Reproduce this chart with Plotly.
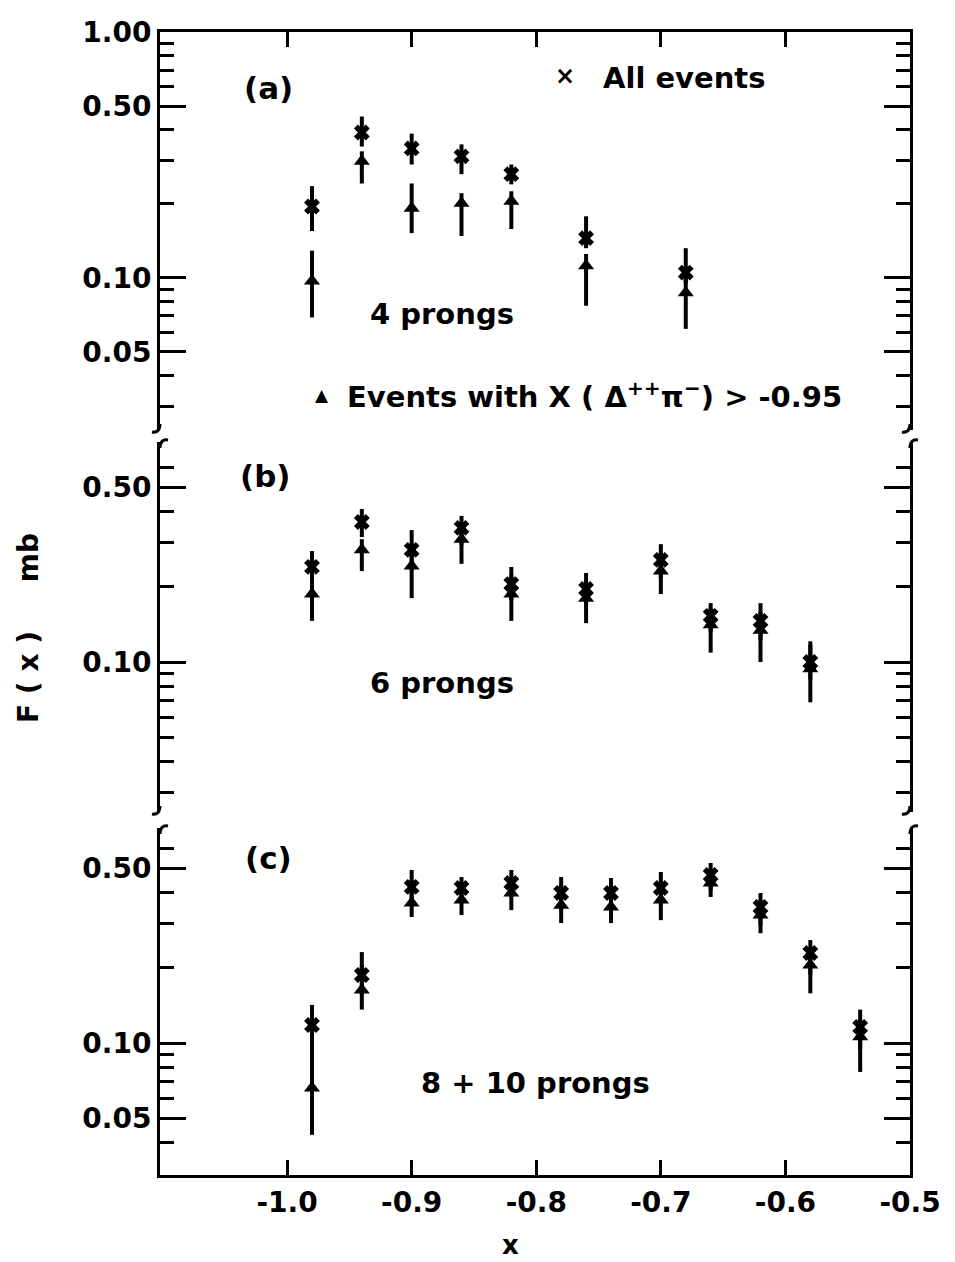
import plotly.graph_objects as go

# ---------------- data ----------------
# panel (a) 4 prongs
x_a = [-0.98, -0.94, -0.90, -0.86, -0.82, -0.76, -0.68]
all_a = [0.195, 0.390, 0.336, 0.312, 0.264, 0.145, 0.105]
all_a_hi = [0.236, 0.453, 0.386, 0.349, 0.289, 0.178, 0.132]
all_a_lo = [0.155, 0.342, 0.289, 0.264, 0.240, 0.132, 0.095]
sel_a = [0.097, 0.298, 0.192, 0.201, 0.205, 0.112, 0.087]
sel_a_hi = [0.129, 0.327, 0.242, 0.221, 0.225, 0.125, 0.099]
sel_a_lo = [0.069, 0.242, 0.152, 0.148, 0.158, 0.077, 0.062]

# panel (b) 6 prongs
x_b = [-0.98, -0.94, -0.90, -0.86, -0.82, -0.76, -0.70, -0.66, -0.62, -0.58]
all_b = [0.240, 0.363, 0.281, 0.344, 0.205, 0.196, 0.256, 0.153, 0.146, 0.100]
all_b_hi = [0.278, 0.409, 0.337, 0.384, 0.240, 0.227, 0.296, 0.172, 0.172, 0.121]
all_b_lo = [0.205, 0.316, 0.233, 0.294, 0.177, 0.169, 0.217, 0.132, 0.122, 0.085]
sel_b = [0.187, 0.281, 0.242, 0.310, 0.187, 0.180, 0.231, 0.141, 0.134, 0.094]
sel_b_hi = [0.205, 0.310, 0.294, 0.353, 0.223, 0.213, 0.275, 0.164, 0.158, 0.117]
sel_b_lo = [0.146, 0.231, 0.180, 0.247, 0.146, 0.143, 0.187, 0.109, 0.100, 0.069]

# panel (c) 8 + 10 prongs
x_c = [-0.98, -0.94, -0.90, -0.86, -0.82, -0.78, -0.74, -0.70, -0.66, -0.62, -0.58, -0.54]
all_c = [0.118, 0.187, 0.421, 0.417, 0.437, 0.398, 0.398, 0.417, 0.470, 0.350, 0.229, 0.116]
all_c_hi = [0.142, 0.231, 0.492, 0.461, 0.492, 0.461, 0.457, 0.483, 0.525, 0.398, 0.258, 0.136]
all_c_lo = [0.0895, 0.156, 0.357, 0.373, 0.384, 0.340, 0.340, 0.357, 0.409, 0.296, 0.187, 0.094]
sel_c = [0.066, 0.163, 0.363, 0.373, 0.398, 0.356, 0.350, 0.373, 0.437, 0.325, 0.205, 0.106]
sel_c_hi = [0.0895, 0.205, 0.449, 0.429, 0.457, 0.429, 0.409, 0.429, 0.492, 0.373, 0.235, 0.124]
sel_c_lo = [0.0429, 0.136, 0.319, 0.325, 0.340, 0.302, 0.302, 0.310, 0.384, 0.275, 0.158, 0.0766]

x_ticks = [-1.0, -0.9, -0.8, -0.7, -0.6, -0.5]
x_ticktext = ["-1.0", "-0.9", "-0.8", "-0.7", "-0.6", "-0.5"]

ya_major = [0.05, 0.1, 0.5, 1.0]
ya_labels = ["0.05", "0.10", "0.50", "1.00"]
ya_minor = [0.03, 0.04, 0.06, 0.07, 0.08, 0.09, 0.2, 0.3, 0.4, 0.6, 0.7, 0.8, 0.9]
yb_major = [0.1, 0.5]
yb_labels = ["0.10", "0.50"]
yb_minor = [0.03, 0.04, 0.05, 0.06, 0.07, 0.08, 0.09, 0.2, 0.3, 0.4, 0.6]
yc_major = [0.05, 0.1, 0.5]
yc_labels = ["0.05", "0.10", "0.50"]
yc_minor = [0.04, 0.06, 0.07, 0.08, 0.09, 0.2, 0.3, 0.4, 0.6]

# ---------------- layout geometry (pixels) ----------------
W, H = 955, 1262
L, R, T, B = 160, 910, 32, 1175
A_BOT, B_TOP, B_BOT, C_TOP = 430, 442, 812, 828
FONT = "DejaVu Sans"
XR = [-1.102, -0.5]


def px(xp):
    return (xp - L) / (R - L)


def py(yp):
    return (B - yp) / (B - T)


fig = go.Figure()


def add(xs, ys, hi, lo, sym, yaxis):
    fig.add_trace(go.Scatter(
        x=xs, y=ys, mode="markers", xaxis="x", yaxis=yaxis,
        marker=dict(symbol=sym, size=14, color="black", line=dict(width=0)),
        error_y=dict(type="data", symmetric=False,
                     array=[h - v for h, v in zip(hi, ys)],
                     arrayminus=[v - l for v, l in zip(ys, lo)],
                     width=0, thickness=4, color="black"),
        showlegend=False, hoverinfo="skip"))


add(x_a, sel_a, sel_a_hi, sel_a_lo, "triangle-up", "y")
add(x_a, all_a, all_a_hi, all_a_lo, "x", "y")
add(x_b, sel_b, sel_b_hi, sel_b_lo, "triangle-up", "y2")
add(x_b, all_b, all_b_hi, all_b_lo, "x", "y2")
add(x_c, sel_c, sel_c_hi, sel_c_lo, "triangle-up", "y3")
add(x_c, all_c, all_c_hi, all_c_lo, "x", "y3")
# empty trace so that the top frame axis (ticks at the top) is drawn
fig.add_trace(go.Scatter(x=[None], y=[None], xaxis="x2", yaxis="y", mode="markers",
                         showlegend=False, hoverinfo="skip"))

tickfont = dict(family=FONT, size=28, color="black", weight="bold")


def yaxis(major, labels, minor, rng, dom):
    return dict(type="log", range=rng, domain=dom, anchor="x",
                showline=True, linecolor="black", linewidth=3, mirror="ticks",
                ticks="inside", ticklen=26, tickwidth=3, tickcolor="black",
                tickmode="array", tickvals=major, ticktext=labels,
                tickfont=tickfont, showgrid=False, zeroline=False,
                minor=dict(tickmode="array", tickvals=minor, ticks="inside",
                           ticklen=14, tickwidth=3, tickcolor="black",
                           showgrid=False))


fig.update_layout(
    width=W, height=H, autosize=False,
    margin=dict(l=L, r=W - R, t=T, b=H - B),
    paper_bgcolor="white", plot_bgcolor="white",
    xaxis=dict(range=XR, domain=[0, 1], anchor="y3",
               showline=True, linecolor="black", linewidth=3,
               ticks="inside", ticklen=15, tickwidth=3, tickcolor="black",
               tickmode="array", tickvals=x_ticks, ticktext=x_ticktext,
               tickfont=tickfont, showgrid=False, zeroline=False),
    xaxis2=dict(range=XR, overlaying="x", side="top", anchor="y",
                showline=True, linecolor="black", linewidth=3,
                ticks="inside", ticklen=15, tickwidth=3, tickcolor="black",
                tickmode="array", tickvals=x_ticks, showticklabels=False,
                showgrid=False, zeroline=False),
    yaxis=yaxis(ya_major, ya_labels, ya_minor, [-1.619, 0.0], [py(A_BOT), 1.0]),
    yaxis2=yaxis(yb_major, yb_labels, yb_minor, [-1.60, -0.12], [py(B_BOT), py(B_TOP)]),
    yaxis3=yaxis(yc_major, yc_labels, yc_minor, [-1.528, -0.14], [0.0, py(C_TOP)]),
)

# break marks on the frame
shapes = []
for xa in (L, R):
    for yb_, yt_ in ((A_BOT, B_TOP), (B_BOT, C_TOP)):
        shapes.append(dict(type="path", xref="paper", yref="paper",
                           path=f"M {px(xa)},{py(yb_ - 6)} C {px(xa)},{py(yb_)} {px(xa - 3)},{py(yb_ + 3)} {px(xa - 8)},{py(yb_ + 2)}",
                           line=dict(color="black", width=3)))
        shapes.append(dict(type="path", xref="paper", yref="paper",
                           path=f"M {px(xa)},{py(yt_ + 6)} C {px(xa)},{py(yt_)} {px(xa + 3)},{py(yt_ - 3)} {px(xa + 8)},{py(yt_ - 2)}",
                           line=dict(color="black", width=3)))
fig.update_layout(shapes=shapes)


def note(text, xp, yp, size=29, angle=0, xanchor="center"):
    fig.add_annotation(text=text, x=px(xp), y=py(yp), xref="paper", yref="paper",
                       showarrow=False, textangle=angle, xanchor=xanchor, yanchor="middle",
                       font=dict(family=FONT, size=size, color="black", weight="bold"))


note("(a)", 268, 88, size=31)
note("×", 565, 76, size=24)
note("All events", 684, 78)
note("4 prongs", 442, 314)
note("▲", 322, 395, size=17)
note("Events with X ( Δ<sup>++</sup>π<sup>−</sup>) > -0.95", 345, 395, xanchor="left")
note("(b)", 265, 476, size=31)
note("6 prongs", 442, 683)
note("(c)", 268, 858, size=31)
note("8 + 10 prongs", 535, 1083)
note("x", 510, 1245, size=26)
note("F ( x )     mb", 28, 628, size=28, angle=-90)

fig.write_html("out.html")
